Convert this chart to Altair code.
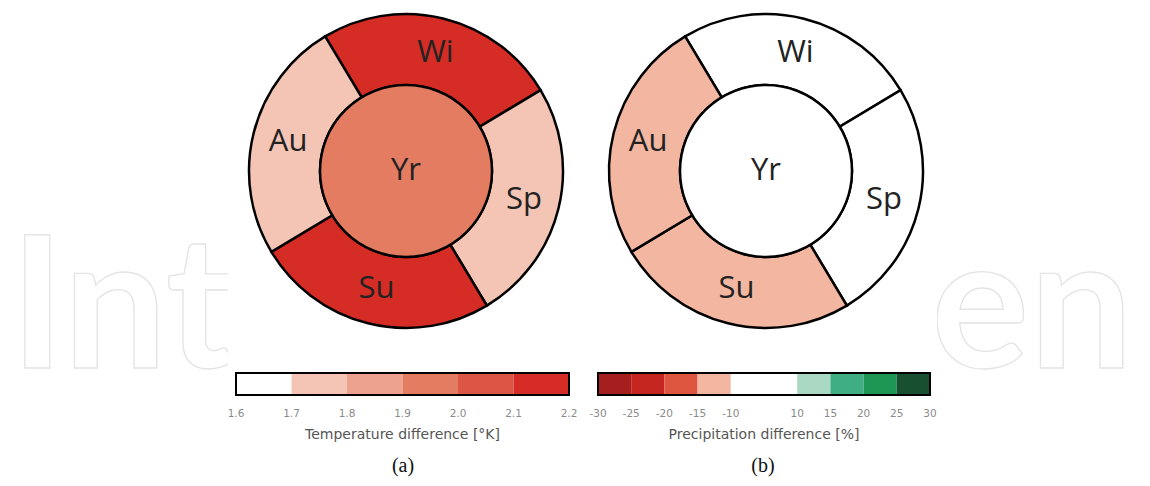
import math
import altair as alt
import pandas as pd

# ---------------- data ----------------
seasons = ["Wi", "Sp", "Su", "Au"]
season_order = [0, 1, 2, 3]
year_label = ["Yr"]

temp_season = [2.16, 1.74, 2.14, 1.75]
temp_year = [1.95]
precip_season = [-3.0, 2.0, -12.0, -13.0]
precip_year = [-1.0]

temp_ticks = [1.6, 1.7, 1.8, 1.9, 2.0, 2.1, 2.2]
temp_tick_labels = ["1.6", "1.7", "1.8", "1.9", "2.0", "2.1", "2.2"]
temp_colors = ["#ffffff", "#f4c5b4", "#eca28c", "#e37c61", "#dc5643", "#d52c25"]

precip_ticks = [-30, -25, -20, -15, -10, 10, 15, 20, 25, 30]
precip_tick_labels = ["-30", "-25", "-20", "-15", "-10", "10", "15", "20", "25", "30"]
precip_colors = ["#a51f1f", "#c62620", "#df5640", "#f3b6a0", "#ffffff",
                 "#a9d9c3", "#3fae85", "#1e9654", "#174f30"]

temp_title = ["Temperature difference [°K]"]
precip_title = ["Precipitation difference [%]"]
panel_labels = ["(a)", "(b)"]
watermark_parts = ["Int", "en"]

# ---------------- layout constants ----------------
W, H = 1134, 470
CY = 163
R_OUT, R_IN = 157, 86
START = math.radians(329)
TWO_PI = 2 * math.pi
BAR_Y0, BAR_Y1 = 365, 387


def panel(season_vals, year_vals, ticks, tick_labels, colors, cx,
          x_domain, x_range, title, label, label_x):
    color_scale = alt.Scale(type="threshold", domain=ticks[1:-1], range=colors)
    theta_scale = alt.Scale(domain=[0, 4], range=[START, START + TWO_PI])
    xs = alt.Scale(domain=x_domain, range=x_range)

    seg = pd.DataFrame({"season": seasons, "val": season_vals,
                        "one": [1] * 4, "idx": season_order})
    yr = pd.DataFrame({"label": year_label, "val": year_vals, "one": [1]})

    ring = alt.Chart(seg).mark_arc(
        innerRadius=R_IN, outerRadius=R_OUT, stroke="black", strokeWidth=2.5
    ).encode(
        theta=alt.Theta("one:Q", stack=True, scale=theta_scale),
        order=alt.Order("idx:Q"),
        color=alt.Color("val:Q", scale=color_scale, legend=None),
        x=alt.value(cx), y=alt.value(CY),
    )
    ring_text = alt.Chart(seg).mark_text(
        radius=(R_IN + R_OUT) / 2, font="Open Sans", fontSize=31,
        color="#222222", align="center", baseline="middle"
    ).encode(
        theta=alt.Theta("one:Q", stack=True, scale=theta_scale),
        order=alt.Order("idx:Q"),
        text="season:N",
        x=alt.value(cx), y=alt.value(CY),
    )
    disk = alt.Chart(yr).mark_arc(
        outerRadius=R_IN, stroke="black", strokeWidth=2.5
    ).encode(
        theta=alt.Theta("one:Q", stack=True,
                        scale=alt.Scale(domain=[0, 1], range=[0, TWO_PI])),
        color=alt.Color("val:Q", scale=color_scale, legend=None),
        x=alt.value(cx), y=alt.value(CY),
    )
    disk_text = alt.Chart(yr).mark_text(
        font="Open Sans", fontSize=31, color="#222222",
        align="center", baseline="middle"
    ).encode(text="label:N", x=alt.value(cx), y=alt.value(CY))

    bins = pd.DataFrame({"lo": ticks[:-1], "hi": ticks[1:]})
    bins["mid"] = (bins["lo"] + bins["hi"]) / 2
    bar = alt.Chart(bins).mark_rect().encode(
        x=alt.X("lo:Q", scale=xs, axis=None),
        x2="hi:Q",
        y=alt.value(BAR_Y0), y2=alt.value(BAR_Y1),
        color=alt.Color("mid:Q", scale=color_scale, legend=None),
    )
    outline = alt.Chart(pd.DataFrame({"lo": [ticks[0]], "hi": [ticks[-1]]})).mark_rect(
        fillOpacity=0, stroke="black", strokeWidth=2
    ).encode(
        x=alt.X("lo:Q", scale=xs, axis=None), x2="hi:Q",
        y=alt.value(BAR_Y0), y2=alt.value(BAR_Y1),
    )
    tick_text = alt.Chart(pd.DataFrame({"t": ticks, "lab": tick_labels})).mark_text(
        font="DejaVu Sans", fontSize=10.5, color="#8a8a8a",
        align="center", baseline="middle"
    ).encode(
        x=alt.X("t:Q", scale=xs, axis=None), y=alt.value(406), text="lab:N",
    )
    title_text = alt.Chart(pd.DataFrame({"t": title})).mark_text(
        font="DejaVu Sans", fontSize=14, color="#555555",
        align="center", baseline="middle"
    ).encode(x=alt.value((x_range[0] + x_range[-1]) / 2), y=alt.value(427), text="t:N")
    lab = alt.Chart(pd.DataFrame({"t": [label]})).mark_text(
        font="Liberation Serif", fontSize=20, color="#111111",
        align="center", baseline="middle"
    ).encode(x=alt.value(label_x), y=alt.value(458), text="t:N")

    return [ring, disk, ring_text, disk_text, bar, outline, tick_text, title_text, lab]


# watermark + white panel background
wm_left = alt.Chart(pd.DataFrame({"t": [watermark_parts[0]]})).mark_text(
    font="Lato", fontWeight="bold", fontSize=184, fillOpacity=0,
    stroke="#e4e4e4", strokeWidth=1.3, align="left", baseline="alphabetic"
).encode(x=alt.value(2), y=alt.value(360), text="t:N")
wm_right = alt.Chart(pd.DataFrame({"t": [watermark_parts[1]]})).mark_text(
    font="Lato", fontWeight="bold", fontSize=184, fillOpacity=0,
    stroke="#e4e4e4", strokeWidth=1.3, align="left", baseline="alphabetic"
).encode(x=alt.value(923), y=alt.value(360), text="t:N")
cover = alt.Chart(pd.DataFrame({"a": [0]})).mark_rect(color="white").encode(
    x=alt.value(220), x2=alt.value(929), y=alt.value(0), y2=alt.value(H)
)

layers_a = panel(temp_season, temp_year, temp_ticks, temp_tick_labels, temp_colors,
                 398, [temp_ticks[0], temp_ticks[-1]], [228, 561],
                 temp_title, panel_labels[0], 395)
layers_b = panel(precip_season, precip_year, precip_ticks, precip_tick_labels, precip_colors,
                 758, [-30, -10, 10, 30], [590, 722.8, 789.2, 922],
                 precip_title, panel_labels[1], 755)

chart = alt.layer(wm_left, wm_right, cover, *layers_a, *layers_b).resolve_scale(
    x="independent", y="independent", theta="independent", color="independent"
).properties(
    width=W, height=H, padding=0, autosize="none"
).configure_view(strokeWidth=0)

chart.save("out.html", embed_options={"renderer": "svg", "actions": False})
